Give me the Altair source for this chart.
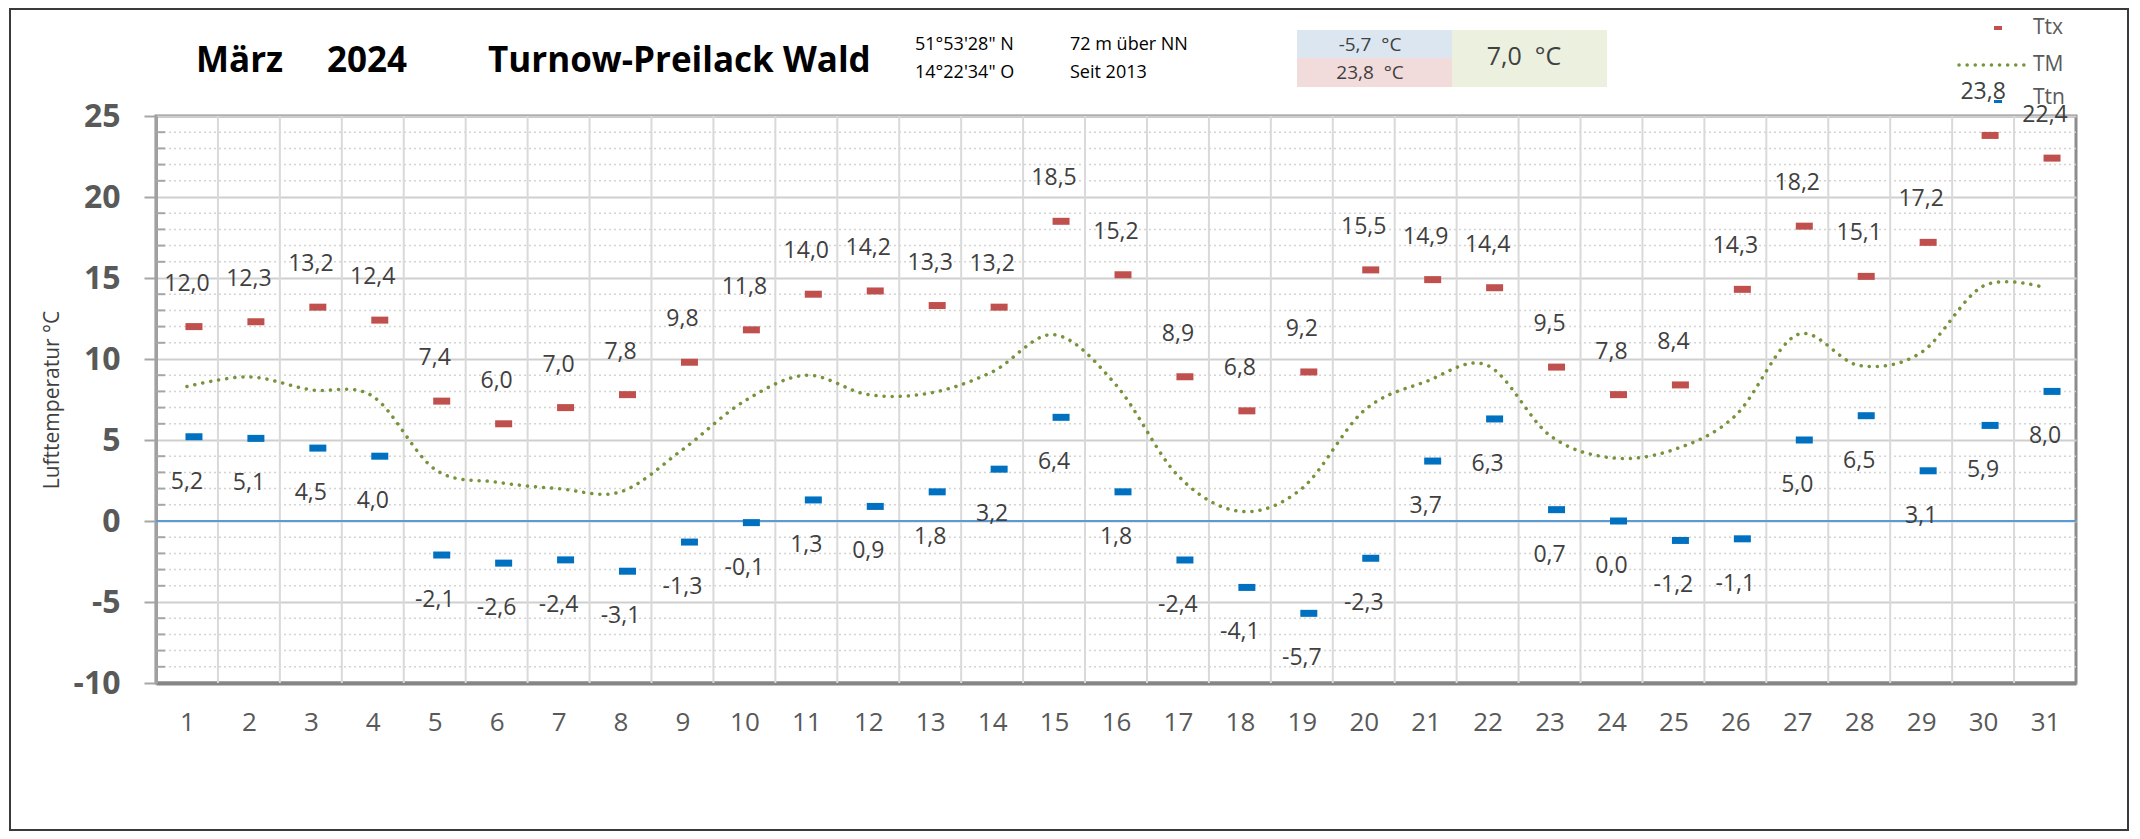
import altair as alt
import pandas as pd

# ---------------- data ----------------
days = list(range(1, 32))
ttx = [12.0, 12.3, 13.2, 12.4, 7.4, 6.0, 7.0, 7.8, 9.8, 11.8, 14.0, 14.2, 13.3, 13.2, 18.5, 15.2,
       8.9, 6.8, 9.2, 15.5, 14.9, 14.4, 9.5, 7.8, 8.4, 14.3, 18.2, 15.1, 17.2, 23.8, 22.4]
ttn = [5.2, 5.1, 4.5, 4.0, -2.1, -2.6, -2.4, -3.1, -1.3, -0.1, 1.3, 0.9, 1.8, 3.2, 6.4, 1.8,
       -2.4, -4.1, -5.7, -2.3, 3.7, 6.3, 0.7, 0.0, -1.2, -1.1, 5.0, 6.5, 3.1, 5.9, 8.0]
tm = [8.3, 8.9, 8.1, 7.7, 3.2, 2.4, 2.0, 1.8, 4.4, 7.4, 9.0, 7.8, 7.9, 9.2, 11.5, 8.4,
      2.8, 0.6, 2.0, 6.8, 8.6, 9.6, 5.3, 3.9, 4.4, 6.5, 11.5, 9.6, 10.4, 14.5, 14.4]

title_parts = ["März", "2024", "Turnow-Preilack Wald"]
info_lines = ["51°53'28\" N", "14°22'34\" O", "72 m über NN", "Seit 2013"]
box_texts = ["-5,7\u00a0 °C", "23,8\u00a0 °C", "7,0\u00a0 °C"]
legend_names = ["Ttx", "TM", "Ttn"]
y_domain = [-10, 25]
y_major = list(range(-10, 26, 5))


def fmt(v):
    return f"{v:.1f}".replace(".", ",")


df = pd.DataFrame({
    "day": days, "ttx": ttx, "ttn": ttn, "tm": tm,
    "ttx_label": [fmt(v) for v in ttx],
    "ttn_label": [fmt(v) for v in ttn],
})
df_bounds = pd.DataFrame({"b": [d + 0.5 for d in days[:-1]]})
df_minor = pd.DataFrame({"v": [v for v in range(y_domain[0], y_domain[1] + 1) if v % 5 != 0]})

# ---------------- styling ----------------
FONT = "Open Sans"
RED = "#C0504D"
BLUE = "#0070C0"
GREEN = "#77933C"

xscale = alt.Scale(domain=[0.5, 31.5], nice=False, zero=False)
yscale = alt.Scale(domain=y_domain, nice=False, zero=False)

xaxis = alt.Axis(values=days, format="d", grid=False, ticks=False,
                 domain=True, domainColor="#858585", domainWidth=4,
                 labelFont=FONT, labelFontSize=26, labelColor="#595959",
                 labelPadding=26, labelOverlap=False, title=None)

yaxis = alt.Axis(
    values=y_major, labelExpr="'' + datum.value",
    grid=True, gridColor="#CFCFCF", gridWidth=2,
    ticks=True, tickSize=12, tickWidth=2, tickColor="#A6A6A6",
    domain=True, domainColor="#A0A0A0", domainWidth=3,
    labelFont=FONT, labelFontSize=32, labelFontWeight="bold", labelColor="#595959",
    labelPadding=24, labelOverlap=False,
    title="Lufttemperatur °C", titleFont=FONT, titleFontSize=21, titleFontWeight="normal",
    titleColor="#404040", titlePadding=11,
)


def X(f):
    return alt.X(f, scale=xscale, axis=xaxis)


def Y(f):
    return alt.Y(f, scale=yscale, axis=yaxis)


# ---------------- data layers ----------------
minor_grid = alt.Chart(df_minor).mark_rule(color="#D4D4D4", strokeWidth=1.5, strokeDash=[2, 3]).encode(
    y=Y("v:Q"))

vgrid = alt.Chart(df_bounds).mark_rule(color="#D9D9D9", strokeWidth=2).encode(x=X("b:Q"))

minor_ticks = alt.Chart(df_minor).mark_rule(color="#A6A6A6", strokeWidth=2).encode(
    y=Y("v:Q"), x=alt.value(0), x2=alt.value(9))

zero = alt.Chart(df).mark_rule(color="#5B9BD5", strokeWidth=2).encode(
    y=alt.Y(datum=0, scale=yscale, axis=yaxis))

tm_line = alt.Chart(df).mark_line(
    color=GREEN, strokeWidth=3.5, strokeDash=[0.1, 8], strokeCap="round", interpolate="cardinal"
).encode(x=X("day:Q"), y=Y("tm:Q"))

ttx_marks = alt.Chart(df).mark_tick(orient="horizontal", size=17, thickness=7, color=RED, xOffset=7,
                                    opacity=1).encode(x=X("day:Q"), y=Y("ttx:Q"))

ttn_marks = alt.Chart(df).mark_tick(orient="horizontal", size=17, thickness=7, color=BLUE, xOffset=7,
                                    opacity=1).encode(x=X("day:Q"), y=Y("ttn:Q"))

ttx_text = alt.Chart(df).mark_text(font=FONT, fontSize=23, color="#404040", dy=-43).encode(
    x=X("day:Q"), y=Y("ttx:Q"), text="ttx_label:N")

ttn_text = alt.Chart(df).mark_text(font=FONT, fontSize=23, color="#404040", dy=45).encode(
    x=X("day:Q"), y=Y("ttn:Q"), text="ttn_label:N")

# ---------------- decorations ----------------
one = alt.Data(values=[{}])


def txt(s, x, y, size, weight="normal", align="left", color="#000000", baseline="middle"):
    return alt.Chart(one).mark_text(text=s, font=FONT, fontSize=size, fontWeight=weight, align=align,
                                    baseline=baseline, color=color).encode(
        x=alt.value(x), y=alt.value(y))


def box(x, x2, y, y2, fill):
    return alt.Chart(one).mark_rect(fill=fill).encode(
        x=alt.value(x), x2=alt.value(x2), y=alt.value(y), y2=alt.value(y2))


deco = [
    alt.Chart(one).mark_rect(fillOpacity=0, stroke="#3A3A3A", strokeWidth=2).encode(
        x=alt.value(-146), x2=alt.value(1972), y=alt.value(-107), y2=alt.value(714)),
    txt(title_parts[0], 40, -44, 35, "bold", baseline="alphabetic"),
    txt(title_parts[1], 171, -44, 35, "bold", baseline="alphabetic"),
    txt(title_parts[2], 332, -44, 35, "bold", baseline="alphabetic"),
    txt(info_lines[0], 759, -71, 18),
    txt(info_lines[1], 759, -43, 18),
    txt(info_lines[2], 914, -71, 18),
    txt(info_lines[3], 914, -43, 18),
    box(1141, 1296, -86, -58, "#DCE6F1"),
    box(1141, 1296, -58, -29, "#F2DCDB"),
    box(1296, 1451, -86, -29, "#EBF1DE"),
    txt(box_texts[0], 1214, -71, 19, align="center", color="#404040"),
    txt(box_texts[1], 1214, -43, 19, align="center", color="#404040"),
    txt(box_texts[2], 1368, -59, 25, align="center", color="#404040"),
    # legend
    box(1838, 1846, -90, -86, RED),
    alt.Chart(one).mark_rule(color=GREEN, strokeWidth=3.5, strokeDash=[0.1, 8], strokeCap="round").encode(
        x=alt.value(1803), x2=alt.value(1870), y=alt.value(-51)),
    box(1838, 1846, -16, -13, BLUE),
    txt(legend_names[0], 1877, -88, 21, color="#595959"),
    txt(legend_names[1], 1877, -51, 21, color="#595959"),
    txt(legend_names[2], 1877, -18, 21, color="#595959"),
]

chart = alt.layer(
    minor_grid, vgrid, minor_ticks, zero, tm_line, ttx_marks, ttn_marks, ttx_text, ttn_text, *deco
).properties(
    width=1920, height=567,
    padding={"left": 148, "top": 108, "right": 56, "bottom": 148},
    autosize=alt.AutoSizeParams(type="none"),
    background="white",
).configure_view(stroke="#8C8C8C", strokeWidth=3)

chart.save("out.html", embed_options={"renderer": "svg", "actions": False})
